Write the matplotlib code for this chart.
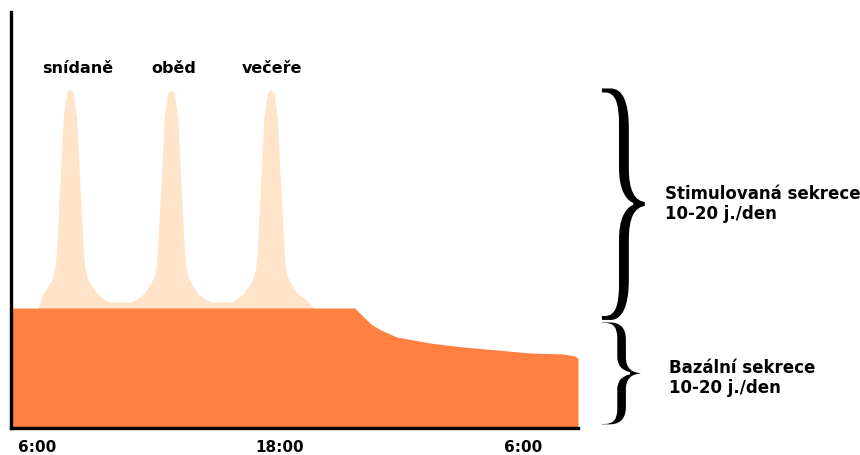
import numpy as np
import matplotlib
matplotlib.use("Agg")
import matplotlib.pyplot as plt
from matplotlib.textpath import TextPath
from matplotlib.font_manager import FontProperties
from matplotlib.patches import PathPatch
from matplotlib.transforms import Affine2D

# time in hours from midnight of the first day (6:00 .. next 6:00)
tick_pos = [6, 18, 30]
tick_labels = ["6:00", "18:00", "6:00"]

# stimulated secretion (meal peaks)
stim_t = [6.05, 6.30, 6.64, 6.79, 6.89, 6.97, 7.04, 7.14, 7.23, 7.30, 7.38, 7.48, 7.63,
          7.78, 7.88, 7.96, 8.03, 8.12, 8.22, 8.29, 8.37, 8.47, 8.62, 8.96, 9.36, 9.61,
          10.64, 10.89, 11.29, 11.63, 11.78, 11.88, 11.96, 12.03, 12.13, 12.22, 12.29, 12.37, 12.47, 12.62,
          12.77, 12.87, 12.95, 13.02, 13.11, 13.21, 13.28, 13.36, 13.46, 13.61, 13.95, 14.35, 14.60,
          15.56, 15.81, 16.21, 16.55, 16.70, 16.80, 16.88, 16.95, 17.05, 17.14, 17.21, 17.29, 17.39, 17.54,
          17.69, 17.79, 17.87, 17.94, 18.03, 18.13, 18.20, 18.28, 18.38, 18.53, 18.87, 19.27, 19.66]
stim_v = [1.00, 1.12, 1.21, 1.26, 1.33, 1.48, 1.73, 2.04, 2.36, 2.59, 2.69, 2.80, 2.82,
          2.80, 2.69, 2.59, 2.36, 2.04, 1.73, 1.48, 1.33, 1.26, 1.21, 1.12, 1.07, 1.05,
          1.05, 1.07, 1.12, 1.21, 1.26, 1.33, 1.48, 1.73, 2.04, 2.36, 2.59, 2.69, 2.80, 2.82,
          2.80, 2.69, 2.59, 2.36, 2.04, 1.73, 1.48, 1.33, 1.26, 1.21, 1.12, 1.07, 1.05,
          1.05, 1.07, 1.12, 1.21, 1.26, 1.33, 1.48, 1.73, 2.04, 2.36, 2.59, 2.69, 2.80, 2.82,
          2.80, 2.69, 2.59, 2.36, 2.04, 1.73, 1.48, 1.33, 1.26, 1.21, 1.12, 1.07, 1.00]

# basal secretion
basal_t = [4.72, 21.70, 21.90, 22.10, 22.50, 22.94, 23.78, 25.41, 27.04, 28.72, 30.35, 31.98, 32.57, 32.72]
basal_v = [1.00, 1.00, 0.965, 0.930, 0.865, 0.820, 0.758, 0.708, 0.675, 0.650, 0.625, 0.617, 0.600, 0.58]

meals = ["snídaně", "oběd", "večeře"]
meal_label_t = [8.0, 12.74, 17.63]

stim_text = "Stimulovaná sekrece\n10-20 j./den"
basal_text = "Bazální sekrece\n10-20 j./den"

LIGHT = "#FFE4C9"
ORANGE = "#FF8040"

plt.rcParams["font.family"] = ["DejaVu Sans"]

fig = plt.figure(figsize=(8.6, 4.55), dpi=100)
ax = fig.add_axes([11 / 860, 27 / 455, 567 / 860, 416 / 455])

ax.fill_between(stim_t, 0, stim_v, color=LIGHT, lw=0)
ax.fill_between(basal_t, 0, basal_v, color=ORANGE, lw=0)

ax.set_xlim(4.72, 32.72)
ax.set_ylim(0, 416 / 120)

for s in ["top", "right"]:
    ax.spines[s].set_visible(False)
for s in ["left", "bottom"]:
    ax.spines[s].set_linewidth(2.4)
    ax.spines[s].set_color("black")

ax.set_yticks([])
ax.set_xticks(tick_pos)
ax.set_xticklabels(tick_labels, fontsize=11, fontweight="bold")
ax.tick_params(axis="x", length=0, pad=9)

for name, t in zip(meals, meal_label_t):
    ax.text(t, 2.955, name, ha="center", va="baseline", fontsize=11.5, fontweight="bold")


def brace(x0, x1, y0, y1):
    """Draw a '}' stretched into box x0..x1 (axes coords), y0..y1 (data)."""
    fp = FontProperties(family="Liberation Serif", weight="normal")
    tp = TextPath((0, 0), "}", size=1, prop=fp)
    ext = tp.get_extents()
    tr = (Affine2D().translate(-ext.x0, -ext.y0)
          .scale((x1 - x0) / ext.width, (y1 - y0) / ext.height)
          .translate(x0, y0))
    # white edge thins the glyph strokes a little
    patch = PathPatch(tr.transform_path(tp), facecolor="black", edgecolor="white", lw=1.8,
                      transform=ax.get_yaxis_transform(), clip_on=False)
    ax.add_patch(patch)


brace(1.04, 1.12, 0.89, 2.84)
brace(1.04, 1.112, 0.02, 0.89)

fig.text(665 / 860, 1 - 204 / 455, stim_text, ha="left", va="center",
         fontsize=12, fontweight="bold", linespacing=1.15)
fig.text(669 / 860, 1 - 378 / 455, basal_text, ha="left", va="center",
         fontsize=12, fontweight="bold", linespacing=1.15)

fig.savefig("out.png", dpi=100)
